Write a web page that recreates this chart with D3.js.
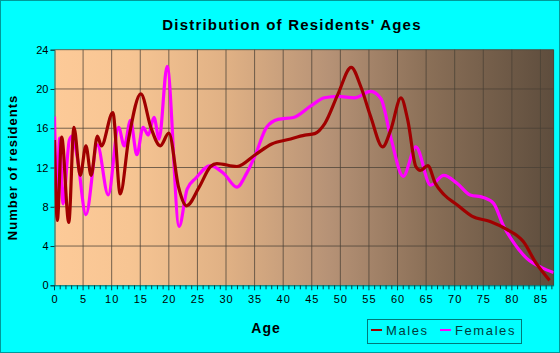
<!DOCTYPE html>
<html>
<head>
<meta charset="utf-8">
<script src="https://cdn.jsdelivr.net/npm/d3@7"></script>
<style>
  body { margin: 0; background: #00ffff; }
  svg { display: block; font-family: "Liberation Sans", Arial, sans-serif; }
</style>
</head>
<body>
<div class="chart"></div>
<script>
// ages / values
const maleAges = [0, 0.5, 1.25, 2.5, 3.4, 4.5, 5.5, 6.4, 7.5, 8.2, 10.2, 11.5, 13, 15.1, 16.9, 18.5, 20, 21.7, 23.1, 25.3, 27.3, 28.4, 31.9, 35.1, 38, 40.9, 43.8, 45.5, 47.3, 49.6, 51.9, 53.6, 55.3, 57.4, 58.8, 60.6, 61.8, 63.2, 64, 65.3, 66.6, 68.2, 70.4, 73, 76.2, 79.1, 82, 84.3, 86.6];
const maleCounts = [14.8, 6.6, 15.1, 6.4, 16.1, 11.2, 14.2, 11.2, 15.2, 14.2, 17.6, 9.3, 15, 19.5, 16, 14.2, 15.5, 10, 8.1, 10, 12.1, 12.4, 12.1, 13.3, 14.4, 14.85, 15.3, 15.45, 16.5, 19.5, 22.2, 20.2, 17.2, 14.1, 15.8, 19.1, 16.8, 12.1, 11.7, 12.2, 10.4, 9.2, 8.2, 7.05, 6.5, 5.7, 4.45, 2.2, 0.5];

const femaleAges = [0, 0.4, 0.9, 1.5, 2.6, 3.1, 4, 5.5, 7.5, 9.4, 11.2, 12.2, 13.3, 14.4, 15.5, 16.4, 17.4, 18.3, 19.7, 21.8, 23.2, 24.7, 27.3, 29.6, 31.9, 33.6, 35.1, 37.1, 39.1, 41.8, 44.9, 47.2, 49.6, 52.5, 55.3, 57.1, 58.8, 61, 63.2, 65.8, 68.1, 70.4, 72.7, 75, 76.8, 78.5, 80.2, 82.6, 85.2, 87.3];
const femaleCounts = [17.2, 9, 15, 8.3, 14.8, 15.2, 13, 7.2, 14.3, 9.2, 16.1, 14.2, 16.8, 13.3, 16.1, 15.3, 17.1, 14.9, 22.3, 6, 9.8, 10.9, 12.2, 11.4, 10, 11.4, 13.25, 16.1, 16.9, 17.1, 18.3, 19.1, 19.25, 19.1, 19.75, 19, 15.1, 11.1, 14.1, 10.2, 11.2, 10.4, 9.2, 8.95, 8.35, 6.1, 4.45, 2.75, 1.8, 1.3];

const xTicks = d3.range(0, 90, 5);
const yTicks = [0, 4, 8, 12, 16, 20, 24];
const seriesNames = ["Males", "Females"];
const seriesColors = ["#a00000", "#ff00ff"];

const width = 560, height = 353;
const margin = { top: 49.7, right: 6.4, bottom: 67.7, left: 54.5 };

const svg = d3.select(".chart")
  .append("svg")
  .attr("width", width)
  .attr("height", height);

// outer frame
svg.append("rect")
  .attr("x", 0.5).attr("y", 0.5)
  .attr("width", width - 1).attr("height", height - 1)
  .attr("fill", "#00ffff")
  .attr("stroke", "#009a9a");

const xScale = d3.scaleLinear().domain([0, 87.3]).range([margin.left, width - margin.right]);
const yScale = d3.scaleLinear().domain([0, 24]).range([height - margin.bottom, margin.top]);

// plot background gradient
const grad = svg.append("defs").append("linearGradient")
  .attr("id", "bg").attr("x1", "0%").attr("x2", "100%").attr("y1", "0%").attr("y2", "0%");
[["0%", "#fdca98"], ["15%", "#f7c593"], ["35%", "#dfb084"], ["55%", "#b69276"], ["75%", "#8a6f57"], ["100%", "#5e4d3d"]]
  .forEach(s => grad.append("stop").attr("offset", s[0]).attr("stop-color", s[1]));

svg.append("rect")
  .attr("x", xScale.range()[0])
  .attr("y", yScale.range()[1])
  .attr("width", xScale.range()[1] - xScale.range()[0])
  .attr("height", yScale.range()[0] - yScale.range()[1])
  .attr("fill", "url(#bg)");

// grid
svg.append("g")
  .selectAll("line")
  .data(xTicks.slice(1))
  .join("line")
  .attr("x1", d => xScale(d)).attr("x2", d => xScale(d))
  .attr("y1", yScale(0)).attr("y2", yScale(24))
  .attr("stroke", "#4a4035").attr("stroke-opacity", 0.75);

svg.append("g")
  .selectAll("line")
  .data(yTicks.slice(1))
  .join("line")
  .attr("x1", xScale(0)).attr("x2", xScale.range()[1])
  .attr("y1", d => yScale(d)).attr("y2", d => yScale(d))
  .attr("stroke", "#4a4035").attr("stroke-opacity", 0.75);

// right edge of plot
svg.append("line")
  .attr("x1", xScale.range()[1]).attr("x2", xScale.range()[1])
  .attr("y1", yScale(0)).attr("y2", yScale(24))
  .attr("stroke", "#4a4035");

// axes
const xAxis = d3.axisBottom(xScale).tickValues(xTicks).tickSize(0).tickPadding(10);
const xAxisGroup = svg.append("g")
  .attr("transform", `translate(0, ${yScale(0)})`)
  .call(xAxis);
xAxisGroup.select(".domain").attr("stroke", "#006060");
xAxisGroup.selectAll("text")
  .attr("font-size", 11)
  .attr("letter-spacing", 1)
  .attr("fill", "#000");

svg.append("g")
  .selectAll("line")
  .data(d3.range(0, 88, 1))
  .join("line")
  .attr("x1", d => xScale(d)).attr("x2", d => xScale(d))
  .attr("y1", yScale(0)).attr("y2", d => yScale(0) + (d % 5 === 0 ? 5 : 4))
  .attr("stroke", "#004040");

const yAxis = d3.axisLeft(yScale).tickValues(yTicks).tickSize(4).tickPadding(2);
const yAxisGroup = svg.append("g")
  .attr("transform", `translate(${xScale(0)}, 0)`)
  .call(yAxis);
yAxisGroup.select(".domain").attr("stroke", "#006060");
yAxisGroup.selectAll("line").attr("stroke", "#004040");
yAxisGroup.selectAll("text").attr("font-size", 11).attr("fill", "#000");

// series
const line = d3.line()
  .x(d => xScale(d[0]))
  .y(d => yScale(d[1]))
  .curve(d3.curveMonotoneX);

const clip = svg.append("clipPath").attr("id", "plotclip")
  .append("rect")
  .attr("x", xScale.range()[0])
  .attr("y", yScale.range()[1] - 2)
  .attr("width", xScale.range()[1] - xScale.range()[0])
  .attr("height", yScale.range()[0] - yScale.range()[1] + 2);

const series = [
  d3.zip(femaleAges, femaleCounts),
  d3.zip(maleAges, maleCounts)
];
const seriesColor = [seriesColors[1], seriesColors[0]];

svg.append("g")
  .attr("clip-path", "url(#plotclip)")
  .selectAll("path")
  .data(series)
  .join("path")
  .attr("d", line)
  .attr("fill", "none")
  .attr("stroke", (d, i) => seriesColor[i])
  .attr("stroke-width", 3.2)
  .attr("stroke-linejoin", "round");

// title and labels
svg.append("text")
  .attr("x", 292)
  .attr("y", 30)
  .attr("text-anchor", "middle")
  .attr("font-size", 15)
  .attr("font-weight", "bold")
  .attr("letter-spacing", 1.2)
  .text("Distribution of Residents' Ages");

svg.append("text")
  .attr("transform", `translate(17, ${(yScale(0) + yScale(24)) / 2}) rotate(-90)`)
  .attr("text-anchor", "middle")
  .attr("font-size", 13)
  .attr("font-weight", "bold")
  .attr("letter-spacing", 1)
  .text("Number of residents");

svg.append("text")
  .attr("x", 266)
  .attr("y", 333)
  .attr("text-anchor", "middle")
  .attr("font-size", 14)
  .attr("font-weight", "bold")
  .attr("letter-spacing", 1)
  .text("Age");

// legend
const legend = svg.append("g");
legend.append("rect")
  .attr("x", 367.5).attr("y", 319.5)
  .attr("width", 154).attr("height", 24)
  .attr("fill", "none")
  .attr("stroke", "#007a7a");

const legendX = [371, 440];
seriesNames.forEach((name, i) => {
  legend.append("line")
    .attr("x1", legendX[i]).attr("x2", legendX[i] + 11)
    .attr("y1", 330).attr("y2", 330)
    .attr("stroke", seriesColors[i])
    .attr("stroke-width", 2);
  legend.append("text")
    .attr("x", legendX[i] + 15)
    .attr("y", 335)
    .attr("font-size", 13)
    .attr("letter-spacing", 1.6)
    .attr("fill", "#003c3c")
    .text(name);
});
</script>
</body>
</html>
